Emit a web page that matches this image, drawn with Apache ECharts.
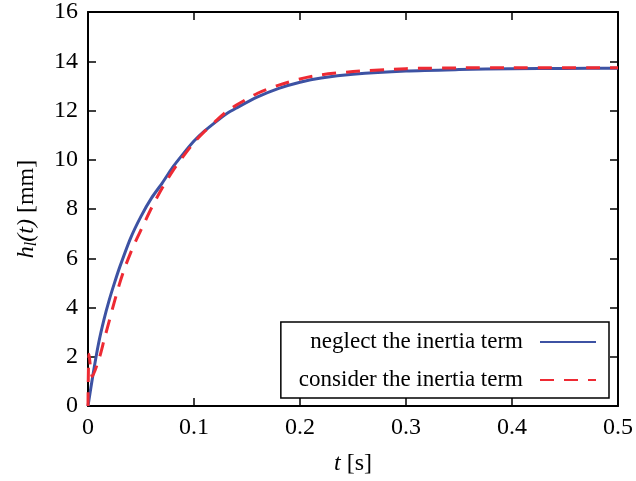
<!DOCTYPE html>
<html>
<head>
<meta charset="utf-8">
<script src="https://cdn.jsdelivr.net/npm/echarts@6/dist/echarts.min.js"></script>
<style>
  html, body { margin: 0; padding: 0; background: #fff; }
  #main { width: 636px; height: 481px; }
</style>
</head>
<body>
<div id="main"></div>
<script>
// time samples [s] and heights [mm]
var tNeglect = [0, 0.005, 0.01, 0.015, 0.02, 0.025, 0.03, 0.04, 0.05, 0.06, 0.07, 0.08, 0.09, 0.1, 0.11, 0.12, 0.13, 0.14, 0.16, 0.18, 0.2, 0.22, 0.25, 0.3, 0.35, 0.4, 0.45, 0.5];
var hNeglect = [0, 1.35, 2.55, 3.5, 4.3, 5.0, 5.65, 6.8, 7.7, 8.45, 9.05, 9.7, 10.25, 10.76, 11.17, 11.52, 11.85, 12.1, 12.55, 12.9, 13.15, 13.32, 13.47, 13.6, 13.66, 13.7, 13.71, 13.72];
var tConsider = [0, 0.001, 0.004, 0.011, 0.015, 0.02, 0.025, 0.03, 0.035, 0.04, 0.045, 0.05, 0.06, 0.07, 0.08, 0.09, 0.1, 0.11, 0.12, 0.13, 0.14, 0.16, 0.18, 0.2, 0.22, 0.25, 0.3, 0.35, 0.4, 0.5];
var hConsider = [0, 2.1, 1.2, 2.0, 2.65, 3.45, 4.25, 5.0, 5.65, 6.2, 6.7, 7.15, 8.05, 8.85, 9.55, 10.15, 10.7, 11.15, 11.55, 11.93, 12.22, 12.7, 13.03, 13.28, 13.45, 13.58, 13.7, 13.73, 13.74, 13.74];
var seriesNames = ['neglect the inertia term', 'consider the inertia term'];

function zip(xs, ys) {
  return xs.map(function (x, i) { return [x, ys[i]]; });
}

var font = 'Liberation Serif';
function tick() { return { show: true, inside: true, length: 8, lineStyle: { color: '#000', width: 1.5 } }; }
function line() { return { show: true, onZero: false, lineStyle: { color: '#000', width: 2 } }; }

var myChart = echarts.init(document.getElementById('main'));
myChart.setOption({
  animation: false,
  grid: { left: 88, right: 18, top: 9, bottom: 74 },
  legend: {
    orient: 'vertical',
    align: 'right',
    right: 27,
    bottom: 83,
    padding: [8, 12, 6, 18],
    itemGap: 14,
    itemWidth: 56,
    itemHeight: 14,
    borderColor: '#000',
    borderWidth: 1.5,
    borderRadius: 0,
    backgroundColor: '#fff',
    itemStyle: { opacity: 0 },
    textStyle: { fontFamily: font, fontSize: 23, lineHeight: 24, color: '#000', padding: [0, 12, 0, 0] },
    data: seriesNames
  },
  xAxis: [{
    type: 'value', min: 0, max: 0.5, interval: 0.1,
    axisLine: line(), axisTick: tick(), splitLine: { show: false },
    axisLabel: { margin: 10, fontFamily: font, fontSize: 24, color: '#000' },
    name: '{i|t} [s]', nameLocation: 'middle', nameGap: 46,
    nameTextStyle: { fontFamily: font, fontSize: 24, color: '#000',
      rich: { i: { fontFamily: font, fontStyle: 'italic', fontSize: 24 } } }
  }, {
    type: 'value', position: 'top', min: 0, max: 0.5, interval: 0.1,
    axisLine: line(), axisTick: tick(), axisLabel: { show: false }, splitLine: { show: false }
  }],
  yAxis: [{
    type: 'value', min: 0, max: 16, interval: 2,
    axisLine: line(), axisTick: tick(), splitLine: { show: false },
    axisLabel: { margin: 10, fontFamily: font, fontSize: 24, color: '#000' },
    name: '{i|h}{sub|l}{i|(t)} [mm]', nameLocation: 'middle', nameGap: 48, nameRotate: 90,
    nameTextStyle: { fontFamily: font, fontSize: 24, color: '#000',
      rich: {
        i: { fontFamily: font, fontStyle: 'italic', fontSize: 24 },
        sub: { fontFamily: font, fontStyle: 'italic', fontSize: 16, verticalAlign: 'bottom', padding: [10, 0, 0, 0] }
      } }
  }, {
    type: 'value', position: 'right', min: 0, max: 16, interval: 2,
    axisLine: line(), axisTick: tick(), axisLabel: { show: false }, splitLine: { show: false }
  }],
  series: [{
    name: seriesNames[0], type: 'line', symbol: 'none', smooth: 0.25,
    lineStyle: { color: '#3d52a3', width: 3 }, itemStyle: { color: '#3d52a3' },
    data: zip(tNeglect, hNeglect)
  }, {
    name: seriesNames[1], type: 'line', symbol: 'none', smooth: 0.25,
    lineStyle: { color: '#ee2a33', width: 3, type: [14, 10] }, itemStyle: { color: '#ee2a33' },
    data: zip(tConsider, hConsider)
  }]
});
</script>
</body>
</html>
